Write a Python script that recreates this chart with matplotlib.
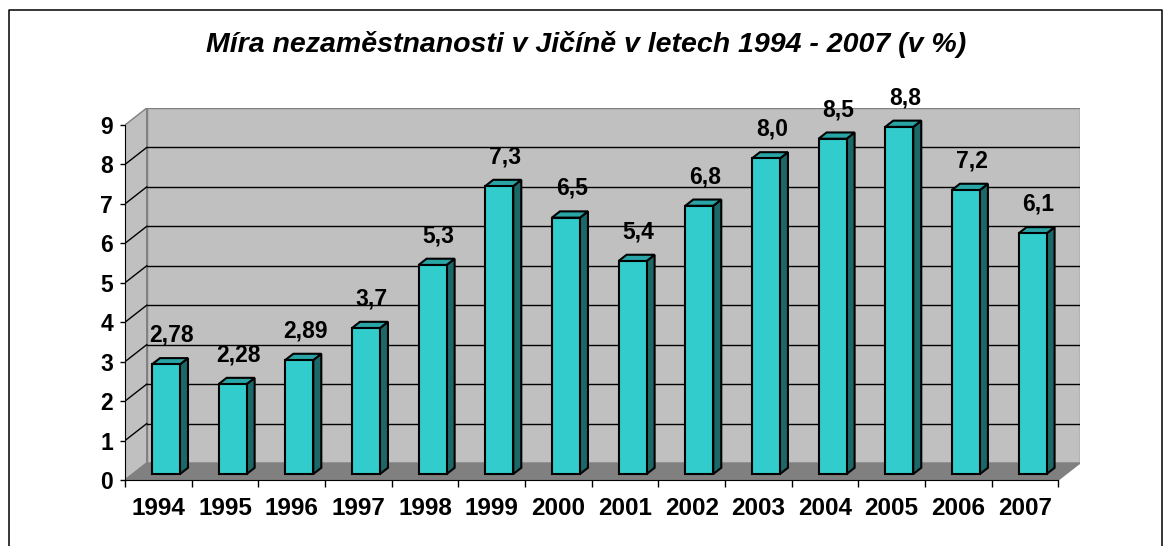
import matplotlib
matplotlib.use('Agg')
import matplotlib.pyplot as plt
from matplotlib.patches import Polygon, Rectangle
from matplotlib.lines import Line2D

plt.rcParams['font.family'] = ['Liberation Sans', 'DejaVu Sans']

years = ['1994', '1995', '1996', '1997', '1998', '1999', '2000',
         '2001', '2002', '2003', '2004', '2005', '2006', '2007']
rates = [2.78, 2.28, 2.89, 3.7, 5.3, 7.3, 6.5, 5.4, 6.8, 8.0, 8.5, 8.8, 7.2, 6.1]
yticks = list(range(10))
title = 'Míra nezaměstnanosti v Jičíně v letech 1994 - 2007 (v %)'

W, H = 1165, 546
fig = plt.figure(figsize=(W / 100, H / 100), dpi=100)
ax = fig.add_axes([125 / W, (H - 480) / H, (1080 - 125) / W, (480 - 108) / H])

n = len(years)
ymax = 9
# fake 3d depth in data units
D = 0.326   # x shift of back wall
E = 0.43    # y shift of back wall
f0 = 0.35   # bar front depth fraction
bd = 0.37   # bar depth fraction
bw = 0.42   # bar width

x0, x1 = -0.5, n - 0.5

# back wall, side wall, floor
ax.add_patch(Rectangle((x0 + D, E), n, ymax, facecolor='#C0C0C0',
                       edgecolor='#808080', lw=1, zorder=1))
ax.add_patch(Polygon([(x0, 0), (x0 + D, E), (x0 + D, ymax + E), (x0, ymax)],
                     closed=True, facecolor='#C0C0C0', edgecolor='#808080', lw=1, zorder=1))
ax.add_patch(Polygon([(x0, 0), (x1, 0), (x1 + D, E), (x0 + D, E)],
                     closed=True, facecolor='#808080', edgecolor='#808080', lw=1, zorder=1))

# gridlines
for v in yticks[1:-1]:
    ax.plot([x0 + D, x1 + D], [v + E, v + E], color='black', lw=1, zorder=1.5)
    ax.plot([x0, x0 + D], [v, v + E], color='black', lw=1, zorder=1.5)

# bars
for i, v in enumerate(rates):
    bx0 = i + f0 * D - bw / 2
    bx1 = i + f0 * D + bw / 2
    by = f0 * E
    dx, dy = bd * D, bd * E
    front = Rectangle((bx0, by), bw, v, facecolor='#33CCCC',
                      edgecolor='black', lw=1.5, zorder=4)
    side = Polygon([(bx1, by), (bx1 + dx, by + dy), (bx1 + dx, by + dy + v), (bx1, by + v)],
                   closed=True, facecolor='#1C6868', edgecolor='black', lw=1.5, zorder=3)
    top = Polygon([(bx0, by + v), (bx1, by + v), (bx1 + dx, by + dy + v), (bx0 + dx, by + dy + v)],
                  closed=True, facecolor='#2AA5A5', edgecolor='black', lw=1.5, zorder=3)
    ax.add_patch(side)
    ax.add_patch(top)
    ax.add_patch(front)
    ax.annotate(str(v).replace('.', ','), (i + f0 * D + 0.09, by + v),
                xytext=(0, 21), textcoords='offset points', ha='center', va='center',
                fontsize=16.5, fontweight='bold', zorder=5, annotation_clip=False)

ax.set_xlim(x0, x1 + D)
ax.set_ylim(0, ymax + E)

ax.set_yticks(yticks)
ax.set_yticklabels([str(t) for t in yticks], fontsize=16.5, fontweight='bold')
ax.set_xticks(range(n))
ax.set_xticklabels(years, fontsize=17.5, fontweight='bold')
ax.set_xticks([k - 0.5 for k in range(n + 1)], minor=True)
ax.tick_params(axis='x', which='major', length=0, pad=12)
ax.tick_params(axis='x', which='minor', length=5, width=1, direction='out')
ax.tick_params(axis='y', length=3.6, width=1, direction='out', pad=5)

for s in ['top', 'right']:
    ax.spines[s].set_visible(False)
ax.spines['left'].set_bounds(0, ymax)
ax.spines['bottom'].set_bounds(x0, x1)
ax.spines['left'].set_zorder(2.5)
ax.spines['bottom'].set_zorder(2.5)
ax.patch.set_visible(False)

fig.text(586 / W, 1 - 45 / H, title, ha='center', va='center',
         fontsize=20.5, fontweight='bold', fontstyle='italic')

# outer chart border (open at the bottom)
bl, br, bt = 9 / W, 1162 / W, 1 - 10 / H
fig.add_artist(Line2D([bl, bl, br, br], [0, bt, bt, 0], transform=fig.transFigure,
                      color='black', lw=1.1))

fig.savefig('out.png', dpi=100)
